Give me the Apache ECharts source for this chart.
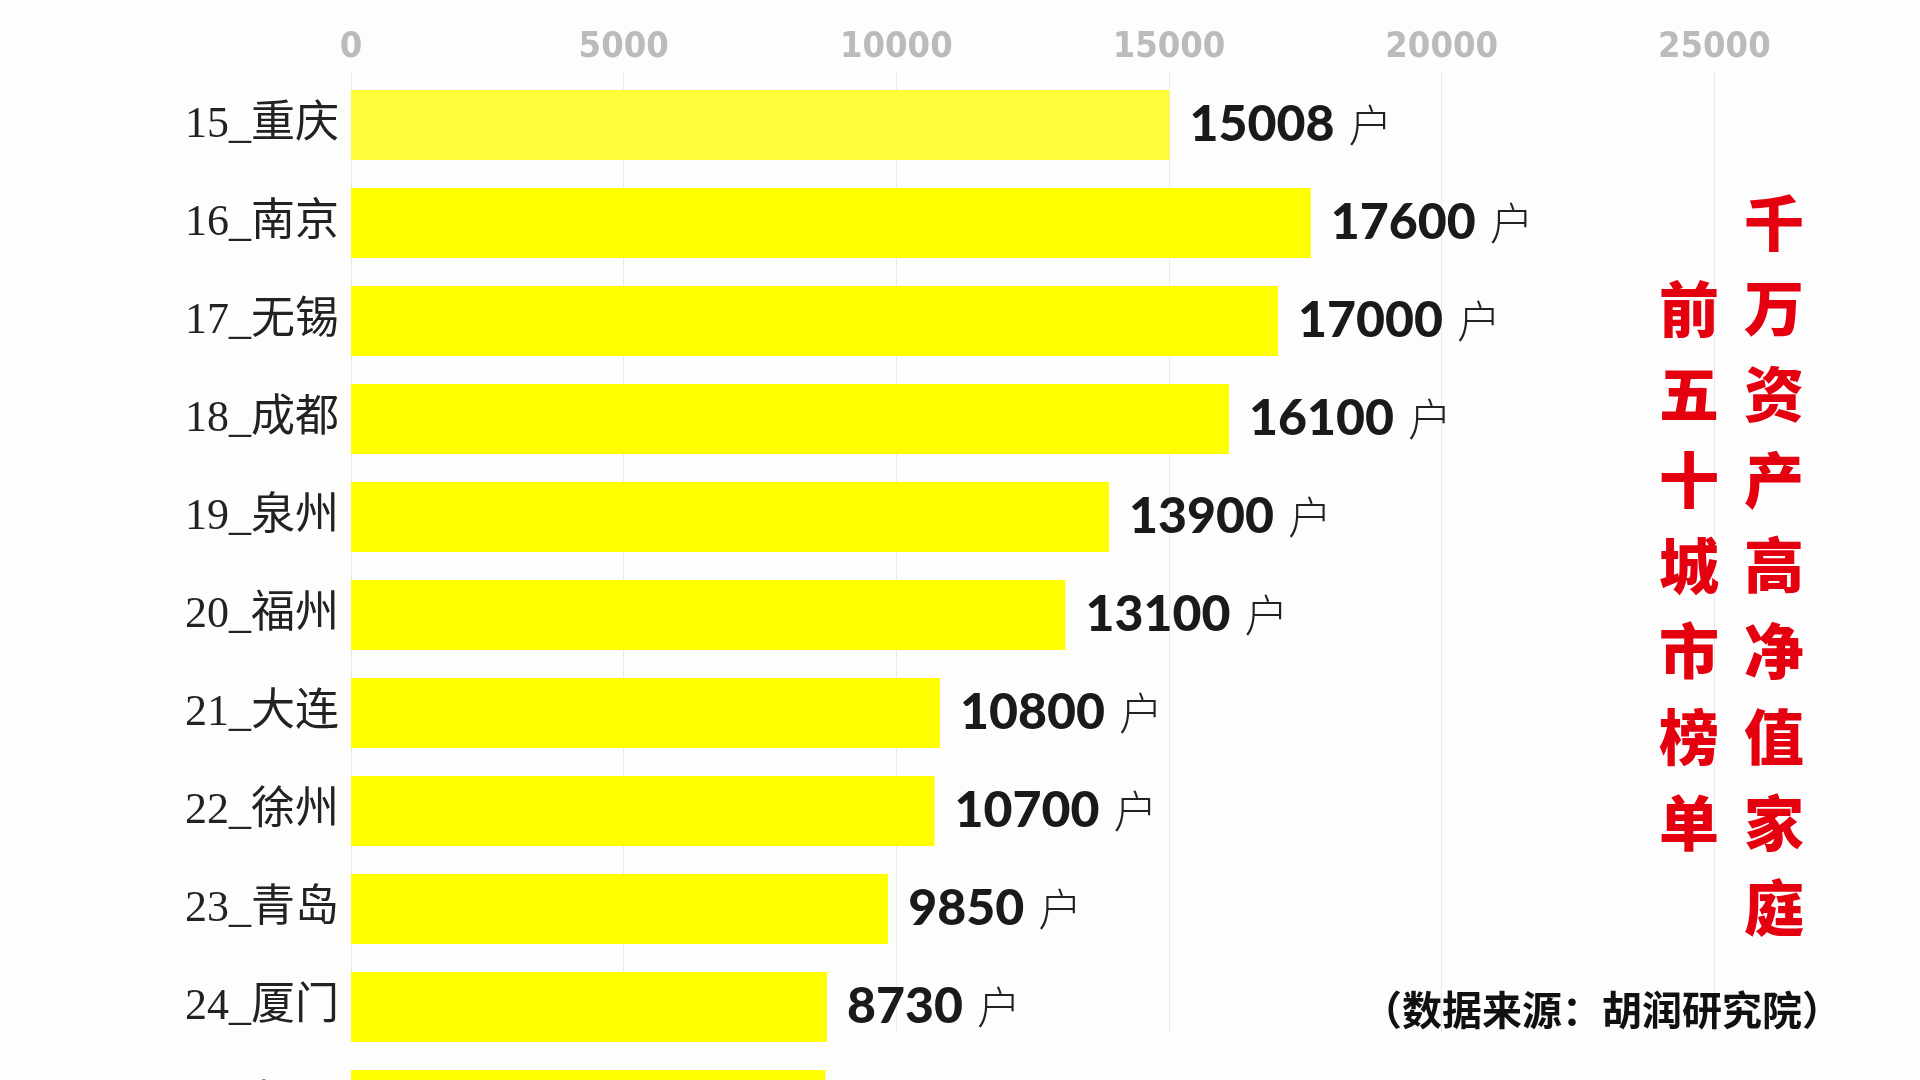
<!DOCTYPE html>
<html>
<head>
<meta charset="utf-8">
<script src="https://cdn.jsdelivr.net/npm/echarts@6/dist/echarts.min.js"></script>
<style>
html,body{margin:0;padding:0;background:#fdfdfd;}
#chart{width:1920px;height:1080px;}
</style>
</head>
<body>
<div id="chart"></div>
<script>
const categories = ['15_重庆','16_南京','17_无锡','18_成都','19_泉州','20_福州','21_大连','22_徐州','23_青岛','24_厦门','25_长沙'];
const values = [15008, 17600, 17000, 16100, 13900, 13100, 10800, 10700, 9850, 8730, 8700];
const unit = '户';
const xTicks = [0, 5000, 10000, 15000, 20000, 25000, 30000];
const titleRight = '千万资产高净值家庭';
const titleLeft = '前五十城市榜单';
const sourceText = '（数据来源：胡润研究院）';

const chart = echarts.init(document.getElementById('chart'));
const gridPos = {left: 351, right: -67};
const option = {
  backgroundColor: '#fdfdfd',
  animation: false,
  grid: [
    {left: gridPos.left, right: gridPos.right, top: 76, bottom: -74, outerBoundsMode: 'none', containLabel: false},
    {left: gridPos.left, right: gridPos.right, top: 72, bottom: 48, outerBoundsMode: 'none', containLabel: false}
  ],
  xAxis: [
    {type: 'value', gridIndex: 0, min: xTicks[0], max: xTicks[xTicks.length-1], interval: 5000, show: false},
    {type: 'value', gridIndex: 1, position: 'top', min: xTicks[0], max: xTicks[xTicks.length-1], interval: 5000,
      axisLine: {show: false}, axisTick: {show: false},
      axisLabel: {margin: 6, color: '#bbbbbb', fontSize: 36, fontWeight: 'bold',
        formatter: v => String(v),
        fontFamily: "'DejaVu Sans Condensed','Liberation Sans Narrow',sans-serif"},
      splitLine: {show: true, lineStyle: {color: '#e9e9e9', width: 1}}
    }
  ],
  yAxis: [
    {type: 'category', gridIndex: 0, inverse: true, data: categories,
      axisLine: {show: false}, axisTick: {show: false},
      axisLabel: {margin: 12, color: '#222', fontSize: 44,
        fontFamily: "'Liberation Serif','Noto Sans CJK SC',serif"}
    },
    {type: 'value', gridIndex: 1, show: false, min: 0, max: 1}
  ],
  series: [{
    type: 'bar',
    xAxisIndex: 0, yAxisIndex: 0,
    data: values,
    barWidth: 70,
    clip: false,
    itemStyle: {color: p => p.dataIndex === 0 ? '#fdfd3a' : '#ffff00'},
    label: {
      show: true, position: 'right', distance: 20,
      formatter: p => '{n|' + p.value + '}{u|' + unit + '}',
      rich: {
        n: {fontFamily: "Lato,'Liberation Sans',sans-serif", fontWeight: 900, fontSize: 50, color: '#1a1a1a'},
        u: {fontFamily: "'Noto Sans CJK SC',sans-serif", fontWeight: 300, fontSize: 44, color: '#222', padding: [0, 0, 0, 14]}
      }
    }
  }],
  graphic: [
    {type: 'text', left: 1744, top: 180, z: 10,
      style: {text: titleRight.split('').join('\n'), fill: '#e5000f', fontSize: 60, fontWeight: 900,
        lineHeight: 85.7, fontFamily: "'Noto Sans CJK SC',sans-serif", align: 'center'}},
    {type: 'text', left: 1659, top: 266, z: 10,
      style: {text: titleLeft.split('').join('\n'), fill: '#e5000f', fontSize: 60, fontWeight: 900,
        lineHeight: 85.7, fontFamily: "'Noto Sans CJK SC',sans-serif", align: 'center'}},
    {type: 'text', left: 1362, top: 990, z: 10,
      style: {text: sourceText, fill: '#111', fontSize: 40, fontWeight: 'bold',
        fontFamily: "'Noto Sans CJK SC',sans-serif"}}
  ]
};
chart.setOption(option);
</script>
</body>
</html>
